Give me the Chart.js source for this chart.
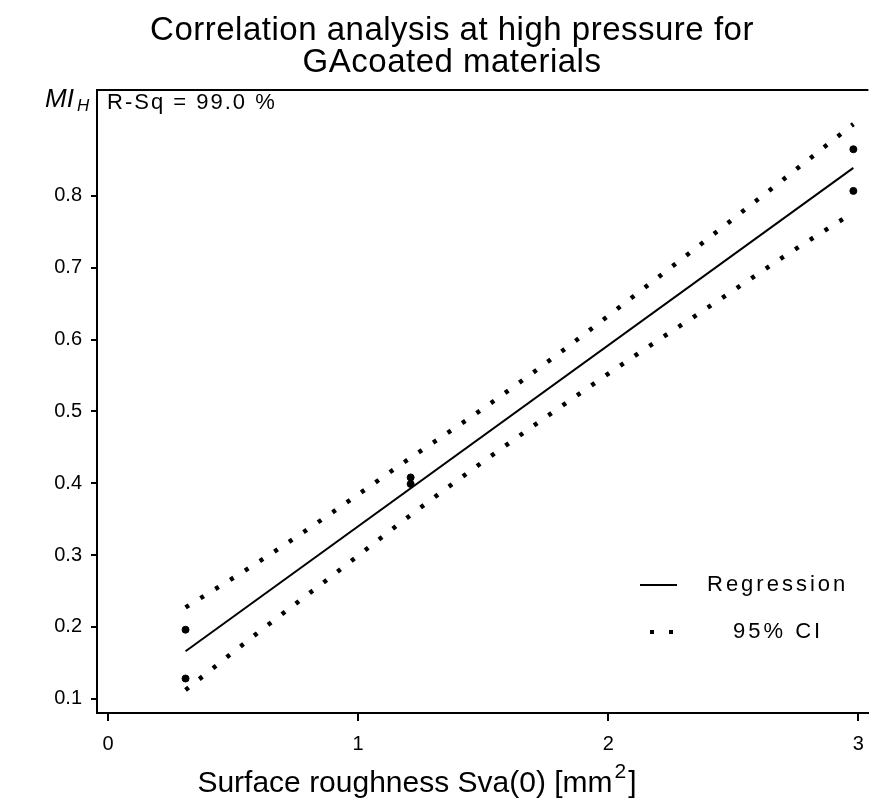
<!DOCTYPE html>
<html lang="en">
<head>
<meta charset="UTF-8">
<title>Correlation analysis at high pressure for GA coated materials</title>
<script src="https://cdn.jsdelivr.net/npm/chart.js"></script>
<style>
  html, body { margin: 0; padding: 0; background: #fff; }
  #wrap { width: 875px; height: 810px; }
</style>
</head>
<body>
<div id="wrap"><canvas id="fitChart" width="875" height="810"></canvas></div>
<script>
// measured points (MI_H vs Sva(0))
const sampleX = [0.31, 0.31, 1.21, 1.21, 2.98, 2.98];
const sampleY = [0.196, 0.128, 0.408, 0.399, 0.865, 0.807];

// fitted line end points
const fitX = [0.31, 2.98];
const fitY = [0.166, 0.839];

const ciX     = [0.31, 0.6, 0.9, 1.2, 1.5, 1.8, 2.1, 2.4, 2.7, 2.98];
const ciUpper = [0.227, 0.290, 0.360, 0.433, 0.504, 0.580, 0.660, 0.741, 0.823, 0.900];
const ciLower = [0.112, 0.192, 0.272, 0.353, 0.430, 0.504, 0.576, 0.645, 0.715, 0.777];

const xTicks = [0, 1, 2, 3];
const yTicks = [0.1, 0.2, 0.3, 0.4, 0.5, 0.6, 0.7, 0.8];

const FONT = '"Liberation Sans", Arial, sans-serif';
const toPts = (xs, ys) => xs.map((x, i) => ({ x: x, y: ys[i] }));

// texts that sit around / inside the plot
const decorations = {
    id: 'decorations',
    afterDraw(chart) {
        const ctx = chart.ctx;
        const area = chart.chartArea;
        ctx.save();
        ctx.fillStyle = '#000';
        ctx.strokeStyle = '#000';

        // top frame line
        ctx.lineWidth = 2;
        ctx.beginPath();
        ctx.moveTo(area.left, area.top);
        ctx.lineTo(area.right, area.top);
        ctx.stroke();

        // title
        ctx.font = '33px ' + FONT;
        ctx.letterSpacing = '0.5px';
        ctx.textAlign = 'center';
        ctx.textBaseline = 'middle';
        ctx.fillText('Correlation analysis at high pressure for', 452, 31);
        ctx.fillText('GAcoated materials', 452, 63);

        // y axis label MI_H
        ctx.letterSpacing = '0px';
        ctx.textAlign = 'left';
        ctx.font = 'italic 26px ' + FONT;
        ctx.fillText('MI', 45, 100);
        const w = ctx.measureText('MI').width;
        ctx.font = 'italic 17px ' + FONT;
        ctx.fillText('H', 45 + w + 3, 106);

        // R-Sq note
        ctx.font = '22px ' + FONT;
        ctx.letterSpacing = '2px';
        ctx.fillText('R-Sq = 99.0 %', 107, 103);

        // legend
        ctx.lineWidth = 2;
        ctx.beginPath();
        ctx.moveTo(640, 585);
        ctx.lineTo(677, 585);
        ctx.stroke();
        ctx.lineWidth = 4;
        ctx.setLineDash([4, 15]);
        ctx.beginPath();
        ctx.moveTo(650, 632);
        ctx.lineTo(680, 632);
        ctx.stroke();
        ctx.setLineDash([]);
        ctx.letterSpacing = '3px';
        ctx.fillText('Regression', 707, 585);
        ctx.fillText('95% CI', 733, 632);

        // x axis title with superscript
        ctx.letterSpacing = '0px';
        ctx.font = '30px ' + FONT;
        const main = 'Surface roughness Sva(0) [mm';
        const mw = ctx.measureText(main).width;
        ctx.font = '21px ' + FONT;
        const sw = ctx.measureText('2').width;
        ctx.font = '30px ' + FONT;
        const cw = ctx.measureText(']').width;
        const x0 = 417 - (mw + sw + 4 + cw) / 2;
        ctx.fillText(main, x0, 784);
        ctx.font = '21px ' + FONT;
        ctx.fillText('2', x0 + mw + 2, 772);
        ctx.font = '30px ' + FONT;
        ctx.fillText(']', x0 + mw + sw + 4, 784);

        ctx.restore();
    }
};

const ctx = document.getElementById('fitChart').getContext('2d');
const chart = new Chart(ctx, {
    type: 'scatter',
    data: {
        datasets: [
            {
                label: 'Regression',
                data: toPts(fitX, fitY),
                showLine: true,
                borderColor: '#000',
                borderWidth: 2,
                pointRadius: 0
            },
            {
                label: '95% CI',
                data: toPts(ciX, ciUpper),
                showLine: true,
                borderColor: '#000',
                borderWidth: 4.5,
                borderDash: [4, 13.5],
                cubicInterpolationMode: 'monotone',
                pointRadius: 0
            },
            {
                label: '95% CI lower',
                data: toPts(ciX, ciLower),
                showLine: true,
                borderColor: '#000',
                borderWidth: 4.5,
                borderDash: [4, 13.5],
                cubicInterpolationMode: 'monotone',
                pointRadius: 0
            },
            {
                label: 'Data',
                data: toPts(sampleX, sampleY),
                showLine: false,
                backgroundColor: '#000',
                borderColor: '#000',
                pointStyle: 'circle',
                pointRadius: 3.5
            }
        ]
    },
    options: {
        responsive: false,
        animation: false,
        layout: { padding: { left: 0, top: 90, right: 5, bottom: 0 } },
        plugins: {
            legend: { display: false },
            tooltip: { enabled: false }
        },
        scales: {
            x: {
                type: 'linear',
                min: -0.044,
                max: 3.04,
                afterFit: s => { s.height = 97; },
                afterBuildTicks: s => { s.ticks = xTicks.map(v => ({ value: v })); },
                border: { display: true, color: '#000', width: 2 },
                grid: { drawOnChartArea: false, color: '#000', lineWidth: 2, tickLength: 8 },
                ticks: {
                    color: '#000',
                    padding: 11,
                    font: { family: FONT, size: 20 },
                    callback: v => String(v)
                }
            },
            y: {
                type: 'linear',
                min: 0.08,
                max: 0.9475,
                afterFit: s => { s.width = 97; },
                afterBuildTicks: s => { s.ticks = yTicks.map(v => ({ value: v })); },
                border: { display: true, color: '#000', width: 2 },
                grid: { drawOnChartArea: false, color: '#000', lineWidth: 2, tickLength: 6 },
                ticks: {
                    color: '#000',
                    padding: 9,
                    font: { family: FONT, size: 20 },
                    callback: v => v.toFixed(1)
                }
            }
        }
    },
    plugins: [decorations]
});
</script>
</body>
</html>
